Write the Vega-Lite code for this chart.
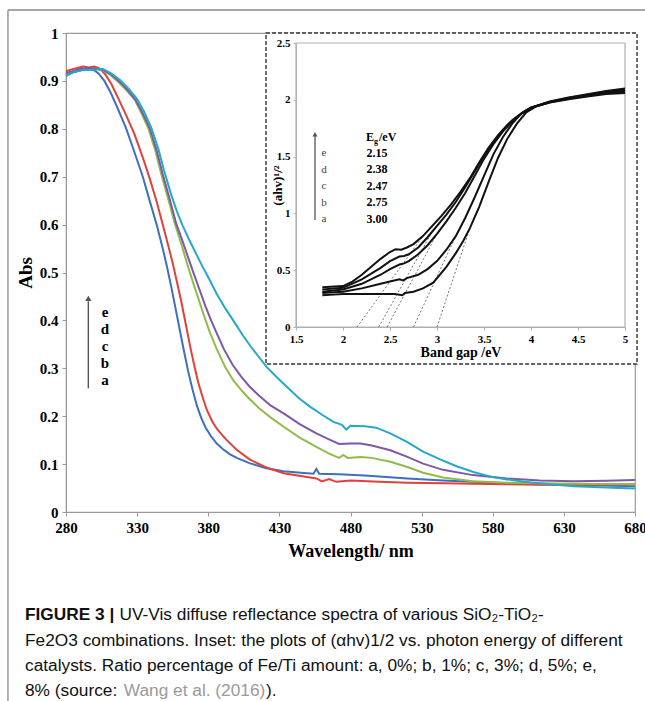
{
  "$schema": "https://vega.github.io/schema/vega-lite/v6.json",
  "width": 569,
  "height": 479,
  "autosize": {"type": "none"},
  "padding": {"left": 66, "top": 33, "right": 10, "bottom": 189},
  "background": "white",
  "config": {
    "view": {"stroke": "#9a9a9a", "strokeWidth": 1.2},
    "axis": {"grid": false}
  },
  "datasets": {
    "main": [
      {"s":"a","w":280,"A":0.912},{"s":"a","w":284,"A":0.917},{"s":"a","w":288,"A":0.92},{"s":"a","w":292,"A":0.923},{"s":"a","w":296,"A":0.925},{"s":"a","w":300,"A":0.922},{"s":"a","w":303,"A":0.915},{"s":"a","w":307,"A":0.9},{"s":"a","w":311,"A":0.878},{"s":"a","w":316,"A":0.845},{"s":"a","w":322,"A":0.803},{"s":"a","w":328,"A":0.752},{"s":"a","w":334,"A":0.7},{"s":"a","w":339,"A":0.648},{"s":"a","w":344,"A":0.597},{"s":"a","w":348,"A":0.55},{"s":"a","w":351,"A":0.512},{"s":"a","w":354,"A":0.47},{"s":"a","w":357,"A":0.425},{"s":"a","w":360,"A":0.38},{"s":"a","w":363,"A":0.335},{"s":"a","w":366,"A":0.292},{"s":"a","w":369,"A":0.255},{"s":"a","w":372,"A":0.222},{"s":"a","w":375,"A":0.197},{"s":"a","w":378,"A":0.177},{"s":"a","w":382,"A":0.158},{"s":"a","w":386,"A":0.143},{"s":"a","w":390,"A":0.132},{"s":"a","w":395,"A":0.121},{"s":"a","w":400,"A":0.113},{"s":"a","w":409,"A":0.102},{"s":"a","w":420,"A":0.092},{"s":"a","w":433,"A":0.085},{"s":"a","w":445,"A":0.082},{"s":"a","w":454,"A":0.08},{"s":"a","w":456,"A":0.09},{"s":"a","w":458,"A":0.08},{"s":"a","w":472,"A":0.079},{"s":"a","w":490,"A":0.076},{"s":"a","w":520,"A":0.07},{"s":"a","w":545,"A":0.066},{"s":"a","w":566,"A":0.063},{"s":"a","w":590,"A":0.06},{"s":"a","w":613,"A":0.058},{"s":"a","w":650,"A":0.056},{"s":"a","w":680,"A":0.054},
      {"s":"b","w":280,"A":0.92},{"s":"b","w":284,"A":0.924},{"s":"b","w":288,"A":0.927},{"s":"b","w":292,"A":0.93},{"s":"b","w":296,"A":0.928},{"s":"b","w":300,"A":0.93},{"s":"b","w":304,"A":0.925},{"s":"b","w":308,"A":0.912},{"s":"b","w":312,"A":0.893},{"s":"b","w":317,"A":0.862},{"s":"b","w":322,"A":0.83},{"s":"b","w":328,"A":0.79},{"s":"b","w":334,"A":0.74},{"s":"b","w":339,"A":0.695},{"s":"b","w":344,"A":0.645},{"s":"b","w":348,"A":0.6},{"s":"b","w":352,"A":0.555},{"s":"b","w":355,"A":0.52},{"s":"b","w":358,"A":0.48},{"s":"b","w":361,"A":0.44},{"s":"b","w":364,"A":0.395},{"s":"b","w":367,"A":0.35},{"s":"b","w":370,"A":0.308},{"s":"b","w":373,"A":0.27},{"s":"b","w":376,"A":0.24},{"s":"b","w":379,"A":0.213},{"s":"b","w":383,"A":0.188},{"s":"b","w":386,"A":0.174},{"s":"b","w":390,"A":0.16},{"s":"b","w":393,"A":0.15},{"s":"b","w":400,"A":0.13},{"s":"b","w":409,"A":0.11},{"s":"b","w":420,"A":0.094},{"s":"b","w":433,"A":0.081},{"s":"b","w":445,"A":0.075},{"s":"b","w":456,"A":0.07},{"s":"b","w":460,"A":0.064},{"s":"b","w":465,"A":0.069},{"s":"b","w":470,"A":0.063},{"s":"b","w":480,"A":0.066},{"s":"b","w":500,"A":0.063},{"s":"b","w":520,"A":0.061},{"s":"b","w":545,"A":0.06},{"s":"b","w":566,"A":0.059},{"s":"b","w":590,"A":0.058},{"s":"b","w":613,"A":0.057},{"s":"b","w":650,"A":0.057},{"s":"b","w":680,"A":0.058},
      {"s":"c","w":280,"A":0.914},{"s":"c","w":285,"A":0.92},{"s":"c","w":290,"A":0.924},{"s":"c","w":295,"A":0.926},{"s":"c","w":300,"A":0.925},{"s":"c","w":306,"A":0.922},{"s":"c","w":311,"A":0.913},{"s":"c","w":316,"A":0.9},{"s":"c","w":322,"A":0.882},{"s":"c","w":328,"A":0.862},{"s":"c","w":333,"A":0.833},{"s":"c","w":338,"A":0.8},{"s":"c","w":343,"A":0.752},{"s":"c","w":347,"A":0.705},{"s":"c","w":352,"A":0.652},{"s":"c","w":356.5,"A":0.602},{"s":"c","w":361,"A":0.56},{"s":"c","w":365,"A":0.52},{"s":"c","w":369,"A":0.482},{"s":"c","w":373,"A":0.446},{"s":"c","w":377,"A":0.41},{"s":"c","w":381,"A":0.376},{"s":"c","w":386,"A":0.34},{"s":"c","w":392,"A":0.302},{"s":"c","w":398,"A":0.273},{"s":"c","w":404,"A":0.252},{"s":"c","w":409,"A":0.236},{"s":"c","w":416,"A":0.216},{"s":"c","w":424,"A":0.197},{"s":"c","w":433,"A":0.178},{"s":"c","w":444,"A":0.156},{"s":"c","w":456,"A":0.136},{"s":"c","w":465,"A":0.122},{"s":"c","w":472,"A":0.113},{"s":"c","w":475,"A":0.119},{"s":"c","w":478,"A":0.113},{"s":"c","w":487,"A":0.115},{"s":"c","w":495,"A":0.113},{"s":"c","w":508,"A":0.105},{"s":"c","w":520,"A":0.094},{"s":"c","w":531,"A":0.082},{"s":"c","w":545,"A":0.072},{"s":"c","w":566,"A":0.064},{"s":"c","w":590,"A":0.061},{"s":"c","w":613,"A":0.06},{"s":"c","w":637,"A":0.059},{"s":"c","w":680,"A":0.058},
      {"s":"d","w":280,"A":0.916},{"s":"d","w":285,"A":0.921},{"s":"d","w":290,"A":0.925},{"s":"d","w":295,"A":0.927},{"s":"d","w":300,"A":0.926},{"s":"d","w":306,"A":0.923},{"s":"d","w":312,"A":0.913},{"s":"d","w":317,"A":0.9},{"s":"d","w":323,"A":0.882},{"s":"d","w":329,"A":0.86},{"s":"d","w":334,"A":0.832},{"s":"d","w":339,"A":0.8},{"s":"d","w":344,"A":0.752},{"s":"d","w":348,"A":0.705},{"s":"d","w":353,"A":0.652},{"s":"d","w":357.5,"A":0.602},{"s":"d","w":362,"A":0.565},{"s":"d","w":366,"A":0.53},{"s":"d","w":370,"A":0.496},{"s":"d","w":374,"A":0.463},{"s":"d","w":378,"A":0.43},{"s":"d","w":382,"A":0.4},{"s":"d","w":386,"A":0.373},{"s":"d","w":391,"A":0.34},{"s":"d","w":397,"A":0.308},{"s":"d","w":403,"A":0.283},{"s":"d","w":409,"A":0.262},{"s":"d","w":416,"A":0.242},{"s":"d","w":424,"A":0.222},{"s":"d","w":433,"A":0.206},{"s":"d","w":444,"A":0.184},{"s":"d","w":456,"A":0.164},{"s":"d","w":466,"A":0.15},{"s":"d","w":472,"A":0.142},{"s":"d","w":480,"A":0.143},{"s":"d","w":487,"A":0.143},{"s":"d","w":495,"A":0.139},{"s":"d","w":508,"A":0.129},{"s":"d","w":520,"A":0.115},{"s":"d","w":531,"A":0.101},{"s":"d","w":545,"A":0.088},{"s":"d","w":566,"A":0.077},{"s":"d","w":590,"A":0.07},{"s":"d","w":613,"A":0.066},{"s":"d","w":637,"A":0.064},{"s":"d","w":660,"A":0.065},{"s":"d","w":680,"A":0.067},
      {"s":"e","w":280,"A":0.91},{"s":"e","w":285,"A":0.918},{"s":"e","w":290,"A":0.922},{"s":"e","w":295,"A":0.923},{"s":"e","w":300,"A":0.924},{"s":"e","w":306,"A":0.925},{"s":"e","w":312,"A":0.915},{"s":"e","w":318,"A":0.902},{"s":"e","w":324,"A":0.884},{"s":"e","w":330,"A":0.862},{"s":"e","w":335,"A":0.835},{"s":"e","w":340,"A":0.802},{"s":"e","w":345,"A":0.757},{"s":"e","w":349,"A":0.712},{"s":"e","w":354,"A":0.662},{"s":"e","w":358,"A":0.627},{"s":"e","w":362,"A":0.598},{"s":"e","w":366,"A":0.572},{"s":"e","w":370,"A":0.548},{"s":"e","w":375,"A":0.518},{"s":"e","w":380,"A":0.49},{"s":"e","w":386,"A":0.455},{"s":"e","w":392,"A":0.425},{"s":"e","w":398,"A":0.398},{"s":"e","w":404,"A":0.37},{"s":"e","w":410,"A":0.345},{"s":"e","w":416,"A":0.322},{"s":"e","w":421,"A":0.303},{"s":"e","w":428,"A":0.282},{"s":"e","w":435,"A":0.262},{"s":"e","w":444,"A":0.237},{"s":"e","w":452,"A":0.219},{"s":"e","w":460,"A":0.203},{"s":"e","w":468,"A":0.188},{"s":"e","w":474,"A":0.182},{"s":"e","w":477,"A":0.172},{"s":"e","w":480,"A":0.18},{"s":"e","w":490,"A":0.179},{"s":"e","w":498,"A":0.176},{"s":"e","w":508,"A":0.164},{"s":"e","w":520,"A":0.146},{"s":"e","w":531,"A":0.126},{"s":"e","w":543,"A":0.11},{"s":"e","w":555,"A":0.095},{"s":"e","w":567,"A":0.083},{"s":"e","w":578,"A":0.074},{"s":"e","w":590,"A":0.068},{"s":"e","w":602,"A":0.063},{"s":"e","w":620,"A":0.058},{"s":"e","w":637,"A":0.054},{"s":"e","w":660,"A":0.051},{"s":"e","w":680,"A":0.049}
    ],
    "inset": [
      {"s":"a","eV":1.78,"v":0.28},{"s":"a","eV":1.9,"v":0.285},{"s":"a","eV":2.0,"v":0.29},{"s":"a","eV":2.2,"v":0.29},{"s":"a","eV":2.4,"v":0.29},{"s":"a","eV":2.55,"v":0.29},{"s":"a","eV":2.63,"v":0.28},{"s":"a","eV":2.66,"v":0.3},{"s":"a","eV":2.75,"v":0.31},{"s":"a","eV":2.85,"v":0.34},{"s":"a","eV":2.96,"v":0.39},{"s":"a","eV":3.1,"v":0.53},{"s":"a","eV":3.2,"v":0.65},{"s":"a","eV":3.28,"v":0.76},{"s":"a","eV":3.35,"v":0.87},{"s":"a","eV":3.45,"v":1.06},{"s":"a","eV":3.55,"v":1.28},{"s":"a","eV":3.65,"v":1.49},{"s":"a","eV":3.75,"v":1.66},{"s":"a","eV":3.85,"v":1.79},{"s":"a","eV":3.95,"v":1.89},{"s":"a","eV":4.05,"v":1.94},{"s":"a","eV":4.2,"v":1.975},{"s":"a","eV":4.4,"v":2.005},{"s":"a","eV":4.6,"v":2.03},{"s":"a","eV":4.8,"v":2.05},{"s":"a","eV":5.0,"v":2.06},
      {"s":"b","eV":1.78,"v":0.3},{"s":"b","eV":2.0,"v":0.31},{"s":"b","eV":2.2,"v":0.34},{"s":"b","eV":2.4,"v":0.38},{"s":"b","eV":2.5,"v":0.4},{"s":"b","eV":2.6,"v":0.42},{"s":"b","eV":2.64,"v":0.41},{"s":"b","eV":2.68,"v":0.43},{"s":"b","eV":2.8,"v":0.46},{"s":"b","eV":2.9,"v":0.51},{"s":"b","eV":3.0,"v":0.58},{"s":"b","eV":3.1,"v":0.68},{"s":"b","eV":3.2,"v":0.8},{"s":"b","eV":3.3,"v":0.96},{"s":"b","eV":3.4,"v":1.14},{"s":"b","eV":3.5,"v":1.33},{"s":"b","eV":3.6,"v":1.52},{"s":"b","eV":3.7,"v":1.67},{"s":"b","eV":3.8,"v":1.79},{"s":"b","eV":3.9,"v":1.88},{"s":"b","eV":4.0,"v":1.93},{"s":"b","eV":4.2,"v":1.978},{"s":"b","eV":4.4,"v":2.008},{"s":"b","eV":4.6,"v":2.035},{"s":"b","eV":4.8,"v":2.057},{"s":"b","eV":5.0,"v":2.07},
      {"s":"c","eV":1.78,"v":0.31},{"s":"c","eV":2.0,"v":0.33},{"s":"c","eV":2.2,"v":0.38},{"s":"c","eV":2.4,"v":0.46},{"s":"c","eV":2.5,"v":0.51},{"s":"c","eV":2.6,"v":0.55},{"s":"c","eV":2.65,"v":0.56},{"s":"c","eV":2.7,"v":0.58},{"s":"c","eV":2.8,"v":0.64},{"s":"c","eV":2.9,"v":0.72},{"s":"c","eV":3.0,"v":0.82},{"s":"c","eV":3.1,"v":0.93},{"s":"c","eV":3.2,"v":1.05},{"s":"c","eV":3.3,"v":1.18},{"s":"c","eV":3.4,"v":1.33},{"s":"c","eV":3.5,"v":1.48},{"s":"c","eV":3.6,"v":1.61},{"s":"c","eV":3.7,"v":1.72},{"s":"c","eV":3.8,"v":1.81},{"s":"c","eV":3.9,"v":1.88},{"s":"c","eV":4.0,"v":1.93},{"s":"c","eV":4.2,"v":1.98},{"s":"c","eV":4.4,"v":2.012},{"s":"c","eV":4.6,"v":2.04},{"s":"c","eV":4.8,"v":2.063},{"s":"c","eV":5.0,"v":2.08},
      {"s":"d","eV":1.78,"v":0.33},{"s":"d","eV":2.0,"v":0.345},{"s":"d","eV":2.2,"v":0.42},{"s":"d","eV":2.4,"v":0.52},{"s":"d","eV":2.5,"v":0.58},{"s":"d","eV":2.6,"v":0.62},{"s":"d","eV":2.65,"v":0.625},{"s":"d","eV":2.7,"v":0.64},{"s":"d","eV":2.8,"v":0.7},{"s":"d","eV":2.9,"v":0.79},{"s":"d","eV":3.0,"v":0.89},{"s":"d","eV":3.1,"v":0.99},{"s":"d","eV":3.2,"v":1.1},{"s":"d","eV":3.3,"v":1.23},{"s":"d","eV":3.4,"v":1.37},{"s":"d","eV":3.5,"v":1.51},{"s":"d","eV":3.6,"v":1.63},{"s":"d","eV":3.7,"v":1.73},{"s":"d","eV":3.8,"v":1.82},{"s":"d","eV":3.9,"v":1.88},{"s":"d","eV":4.0,"v":1.93},{"s":"d","eV":4.2,"v":1.982},{"s":"d","eV":4.4,"v":2.015},{"s":"d","eV":4.6,"v":2.045},{"s":"d","eV":4.8,"v":2.07},{"s":"d","eV":5.0,"v":2.09},
      {"s":"e","eV":1.78,"v":0.35},{"s":"e","eV":2.0,"v":0.36},{"s":"e","eV":2.1,"v":0.4},{"s":"e","eV":2.2,"v":0.46},{"s":"e","eV":2.3,"v":0.53},{"s":"e","eV":2.4,"v":0.6},{"s":"e","eV":2.5,"v":0.66},{"s":"e","eV":2.56,"v":0.685},{"s":"e","eV":2.62,"v":0.68},{"s":"e","eV":2.68,"v":0.7},{"s":"e","eV":2.75,"v":0.73},{"s":"e","eV":2.85,"v":0.8},{"s":"e","eV":2.95,"v":0.89},{"s":"e","eV":3.05,"v":0.98},{"s":"e","eV":3.15,"v":1.08},{"s":"e","eV":3.25,"v":1.19},{"s":"e","eV":3.35,"v":1.31},{"s":"e","eV":3.45,"v":1.45},{"s":"e","eV":3.55,"v":1.58},{"s":"e","eV":3.65,"v":1.69},{"s":"e","eV":3.75,"v":1.78},{"s":"e","eV":3.85,"v":1.85},{"s":"e","eV":3.95,"v":1.91},{"s":"e","eV":4.0,"v":1.93},{"s":"e","eV":4.2,"v":1.985},{"s":"e","eV":4.4,"v":2.02},{"s":"e","eV":4.6,"v":2.05},{"s":"e","eV":4.8,"v":2.077},{"s":"e","eV":5.0,"v":2.1}
    ],
    "tangent": [
      {"s":"e","eV":2.15,"v":0},{"s":"e","eV":2.85,"v":0.8},
      {"s":"d","eV":2.38,"v":0},{"s":"d","eV":2.95,"v":0.84},
      {"s":"c","eV":2.47,"v":0},{"s":"c","eV":3.0,"v":0.82},
      {"s":"b","eV":2.75,"v":0},{"s":"b","eV":3.2,"v":0.8},
      {"s":"a","eV":3.0,"v":0},{"s":"a","eV":3.35,"v":0.87}
    ]
  },
  "layer": [
    {
      "layer": [
        {
          "data": {"name": "main"},
          "mark": {"type": "line", "strokeWidth": 2},
          "encoding": {
            "x": {"field": "w", "type": "quantitative",
              "scale": {"domain": [280, 680], "nice": false, "zero": false},
              "axis": {"orient": "bottom", "values": [280,330,380,430,480,530,580,630,680], "title": "Wavelength/ nm",
                "titleFont": "Liberation Serif", "titleFontSize": 18, "titleFontWeight": "bold", "titleColor": "#000", "titlePadding": 7,
                "labelFont": "Liberation Serif", "labelFontSize": 15, "labelFontWeight": "bold", "labelColor": "#000", "labelPadding": 4,
                "domainColor": "#9a9a9a", "tickColor": "#9a9a9a", "tickSize": 4, "labelFlush": false, "labelOverlap": false}},
            "y": {"field": "A", "type": "quantitative",
              "scale": {"domain": [0, 1], "nice": false, "zero": false},
              "axis": {"orient": "left", "values": [0,0.1,0.2,0.3,0.4,0.5,0.6,0.7,0.8,0.9,1], "format": "~g", "title": "Abs",
                "titleFont": "Liberation Serif", "titleFontSize": 19, "titleFontWeight": "bold", "titleColor": "#000", "titlePadding": 4,
                "labelFont": "Liberation Serif", "labelFontSize": 15, "labelFontWeight": "bold", "labelColor": "#000", "labelPadding": 4,
                "domainColor": "#9a9a9a", "tickColor": "#9a9a9a", "tickSize": 4, "labelFlush": false, "labelOverlap": false}},
            "color": {"field": "s", "type": "nominal",
              "scale": {"domain": ["a","b","c","d","e"], "range": ["#3e6fc1","#e2403a","#8fbc4a","#7d59a6","#27a8c6"]},
              "legend": null}
          }
        },
        {
          "data": {"values": [{}]},
          "mark": {"type": "rule", "color": "#8a8a8a", "strokeWidth": 1.3},
          "encoding": {"x": {"datum": 239.2}, "x2": {"datum": 700}, "y": {"datum": 1.048}}
        },
        {
          "data": {"values": [{}]},
          "mark": {"type": "rule", "color": "#8a8a8a", "strokeWidth": 1.3},
          "encoding": {"x": {"datum": 239.2}, "y": {"datum": 1.048}, "y2": {"datum": -0.42}}
        },
        {
          "data": {"values": [{}]},
          "mark": {"type": "rule", "color": "#555", "strokeWidth": 1.4},
          "encoding": {"x": {"datum": 295.7}, "y": {"datum": 0.258}, "y2": {"datum": 0.44}}
        },
        {
          "data": {"values": [{}]},
          "mark": {"type": "point", "shape": "triangle-up", "filled": true, "size": 40, "color": "#555", "opacity": 1},
          "encoding": {"x": {"datum": 295.7}, "y": {"datum": 0.446}}
        },
        {
          "data": {"values": [{}]},
          "mark": {"type": "text", "text": ["e","d","c","b","a"], "lineHeight": 17.1, "baseline": "top", "align": "center",
            "font": "Liberation Serif", "fontSize": 15, "fontWeight": "bold", "color": "#000"},
          "encoding": {"x": {"datum": 307.4}, "y": {"datum": 0.432}}
        },
        {
          "data": {"values": [{}]},
          "mark": {"type": "text", "text": "FIGURE 3 |", "baseline": "alphabetic", "align": "left",
            "font": "Liberation Sans", "fontSize": 17.3, "fontWeight": "bold", "color": "#111"},
          "encoding": {"x": {"datum": 251.18}, "y": {"datum": -0.2255}}
        },
        {
          "data": {"values": [{}]},
          "mark": {"type": "text", "text": "UV-Vis diffuse reflectance spectra of various SiO₂-TiO₂-", "baseline": "alphabetic", "align": "left",
            "font": "Liberation Sans", "fontSize": 17.3, "color": "#111"},
          "encoding": {"x": {"datum": 317.6}, "y": {"datum": -0.2255}}
        },
        {
          "data": {"values": [{}]},
          "mark": {"type": "text", "text": "Fe2O3 combinations. Inset: the plots of (αhv)1/2 vs. photon energy of different",
            "baseline": "alphabetic", "align": "left", "font": "Liberation Sans", "fontSize": 17.3, "color": "#111"},
          "encoding": {"x": {"datum": 251.18}, "y": {"datum": -0.2797}}
        },
        {
          "data": {"values": [{}]},
          "mark": {"type": "text", "text": "catalysts. Ratio percentage of Fe/Ti amount: a, 0%; b, 1%; c, 3%; d, 5%; e,",
            "baseline": "alphabetic", "align": "left", "font": "Liberation Sans", "fontSize": 17.3, "color": "#111"},
          "encoding": {"x": {"datum": 251.18}, "y": {"datum": -0.3309}}
        },
        {
          "data": {"values": [{}]},
          "mark": {"type": "text", "text": "8% (source:", "baseline": "alphabetic", "align": "left", "font": "Liberation Sans", "fontSize": 17.3, "color": "#111"},
          "encoding": {"x": {"datum": 251.18}, "y": {"datum": -0.3841}}
        },
        {
          "data": {"values": [{}]},
          "mark": {"type": "text", "text": "Wang et al. (2016)", "baseline": "alphabetic", "align": "left", "font": "Liberation Sans", "fontSize": 17.3, "color": "#9a9a9a"},
          "encoding": {"x": {"datum": 320.6}, "y": {"datum": -0.3841}}
        },
        {
          "data": {"values": [{}]},
          "mark": {"type": "text", "text": ").", "baseline": "alphabetic", "align": "left", "font": "Liberation Sans", "fontSize": 17.3, "color": "#111"},
          "encoding": {"x": {"datum": 420.6}, "y": {"datum": -0.3841}}
        }
      ]
    },
    {
      "layer": [
        {
          "data": {"values": [{}]},
          "mark": {"type": "rect", "fill": "white", "stroke": "#333", "strokeWidth": 1.4, "strokeDash": [4, 2]},
          "encoding": {"x": {"datum": 1.181}, "x2": {"datum": 5.128}, "y": {"datum": 2.588}, "y2": {"datum": -0.326}}
        },
        {
          "data": {"values": [{}]},
          "mark": {"type": "rect", "fill": null, "filled": false, "stroke": "#b0b0b0", "strokeWidth": 1.2},
          "encoding": {"x": {"datum": 1.5}, "x2": {"datum": 5}, "y": {"datum": 0}, "y2": {"datum": 2.5}}
        },
        {
          "data": {"name": "tangent"},
          "mark": {"type": "line", "color": "#666", "strokeWidth": 0.9, "strokeDash": [2, 2]},
          "encoding": {"x": {"field": "eV", "type": "quantitative"}, "y": {"field": "v", "type": "quantitative"}, "detail": {"field": "s"}}
        },
        {
          "data": {"name": "inset"},
          "mark": {"type": "line", "color": "#111", "strokeWidth": 2},
          "encoding": {
            "x": {"field": "eV", "type": "quantitative",
              "scale": {"domain": [1.5, 5], "range": [230, 559], "nice": false, "zero": false},
              "axis": {"orient": "bottom", "offset": -185, "zindex": 2, "values": [1.5,2,2.5,3,3.5,4,4.5,5], "format": "~g", "title": "Band gap /eV",
                "titleFont": "Liberation Serif", "titleFontSize": 14, "titleFontWeight": "bold", "titleColor": "#000", "titlePadding": 1,
                "labelFont": "Liberation Serif", "labelFontSize": 11, "labelFontWeight": "bold", "labelColor": "#000", "labelPadding": 3,
                "domainColor": "#b0b0b0", "tickColor": "#b0b0b0", "tickSize": 3, "labelFlush": false, "labelOverlap": false}},
            "y": {"field": "v", "type": "quantitative",
              "scale": {"domain": [0, 2.5], "range": [294, 10], "nice": false, "zero": false},
              "axis": {"orient": "left", "offset": -230, "zindex": 2, "values": [0,0.5,1,1.5,2,2.5], "format": "~g", "title": "(ahv)¹/²",
                "titleFont": "Liberation Serif", "titleFontSize": 13, "titleFontWeight": "bold", "titleColor": "#000", "titlePadding": -8,
                "labelFont": "Liberation Serif", "labelFontSize": 11, "labelFontWeight": "bold", "labelColor": "#000", "labelPadding": 3,
                "domainColor": "#b0b0b0", "tickColor": "#b0b0b0", "tickSize": 3, "labelFlush": false, "labelOverlap": false}},
            "detail": {"field": "s"}
          }
        },
        {
          "data": {"values": [{}]},
          "mark": {"type": "rule", "color": "#555", "strokeWidth": 1.3},
          "encoding": {"x": {"datum": 1.702}, "y": {"datum": 0.942}, "y2": {"datum": 1.69}}
        },
        {
          "data": {"values": [{}]},
          "mark": {"type": "point", "shape": "triangle-up", "filled": true, "size": 25, "color": "#555", "opacity": 1},
          "encoding": {"x": {"datum": 1.702}, "y": {"datum": 1.697}}
        },
        {
          "data": {"values": [{}]},
          "mark": {"type": "text", "text": ["e","d","c","b","a"], "lineHeight": 16.5, "baseline": "top", "align": "center",
            "font": "Liberation Serif", "fontSize": 11, "color": "#444"},
          "encoding": {"x": {"datum": 1.798}, "y": {"datum": 1.584}}
        },
        {
          "data": {"values": [{}]},
          "mark": {"type": "text", "text": ["2.15","2.38","2.47","2.75","3.00"], "lineHeight": 16.5, "baseline": "top", "align": "center",
            "font": "Liberation Serif", "fontSize": 12, "fontWeight": "bold", "color": "#000"},
          "encoding": {"x": {"datum": 2.362}, "y": {"datum": 1.576}}
        },
        {
          "data": {"values": [{}]},
          "mark": {"type": "text", "text": "E", "baseline": "alphabetic", "align": "left",
            "font": "Liberation Serif", "fontSize": 12, "fontWeight": "bold", "color": "#000"},
          "encoding": {"x": {"datum": 2.245}, "y": {"datum": 1.637}}
        },
        {
          "data": {"values": [{}]},
          "mark": {"type": "text", "text": "g", "baseline": "alphabetic", "align": "left", "dy": 3,
            "font": "Liberation Serif", "fontSize": 8, "fontWeight": "bold", "color": "#000"},
          "encoding": {"x": {"datum": 2.33}, "y": {"datum": 1.637}}
        },
        {
          "data": {"values": [{}]},
          "mark": {"type": "text", "text": "/eV", "baseline": "alphabetic", "align": "left",
            "font": "Liberation Serif", "fontSize": 12, "fontWeight": "bold", "color": "#000"},
          "encoding": {"x": {"datum": 2.383}, "y": {"datum": 1.637}}
        }
      ]
    }
  ],
  "resolve": {"scale": {"x": "independent", "y": "independent"}, "axis": {"x": "independent", "y": "independent"}}
}
